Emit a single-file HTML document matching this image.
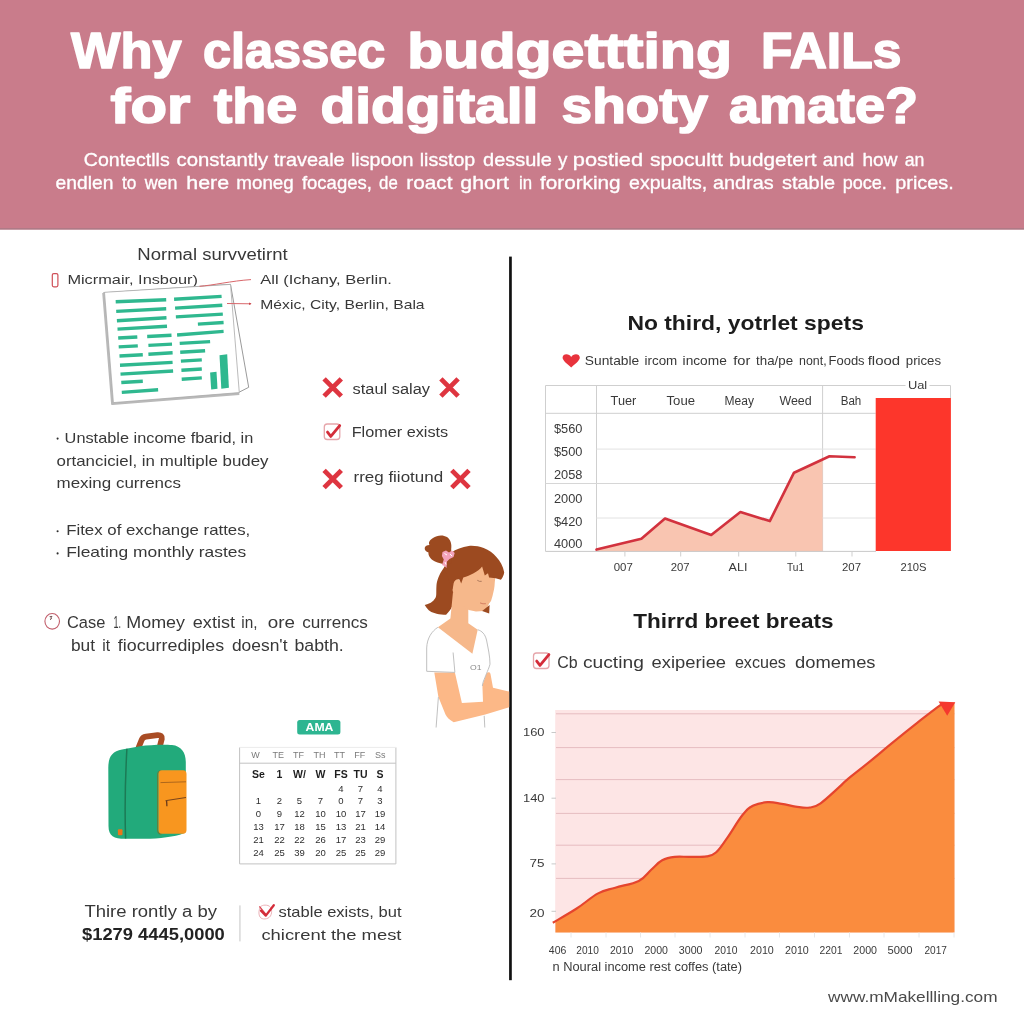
<!DOCTYPE html>
<html lang="en">
<head>
<meta charset="utf-8">
<title>Why classic budgeting fails</title>
<style>
html,body{margin:0;padding:0;background:#fff;}
body{width:1024px;height:1024px;overflow:hidden;font-family:"Liberation Sans",sans-serif;}
svg{display:block;}
svg text{font-family:"Liberation Sans",sans-serif;}
</style>
</head>
<body>
<svg width="1024" height="1024" viewBox="0 0 1024 1024">
<rect x="0" y="0" width="1024" height="1024" fill="#ffffff"/>

<g id="header">
<rect x="0" y="0" width="1024" height="229.5" fill="#c97c8b"/>
<rect x="0" y="228.2" width="1024" height="1.3" fill="#a87a85"/>
<text y="67.7" font-size="49.5" font-weight="bold" fill="#ffffff" stroke="#ffffff" stroke-width="1.6" stroke-linejoin="round"><tspan x="71.0" textLength="110.5" lengthAdjust="spacingAndGlyphs">Why</tspan> <tspan x="203.0" textLength="182.3" lengthAdjust="spacingAndGlyphs">classec</tspan> <tspan x="407.3" textLength="324.7" lengthAdjust="spacingAndGlyphs">budgettting</tspan> <tspan x="761.0" textLength="140.3" lengthAdjust="spacingAndGlyphs">FAILs</tspan></text>
<text y="123.3" font-size="49.5" font-weight="bold" fill="#ffffff" stroke="#ffffff" stroke-width="1.6" stroke-linejoin="round"><tspan x="110.5" textLength="79.8" lengthAdjust="spacingAndGlyphs">for</tspan> <tspan x="213.7" textLength="83.5" lengthAdjust="spacingAndGlyphs">the</tspan> <tspan x="320.6" textLength="217.6" lengthAdjust="spacingAndGlyphs">didgitall</tspan> <tspan x="561.6" textLength="146.5" lengthAdjust="spacingAndGlyphs">shoty</tspan> <tspan x="729.0" textLength="189.0" lengthAdjust="spacingAndGlyphs">amate?</tspan></text>
<text y="166.0" font-size="19" fill="#ffffff" stroke="#ffffff" stroke-width="0.35"><tspan x="83.8" textLength="85.9" lengthAdjust="spacingAndGlyphs">Contectlls</tspan> <tspan x="176.6" textLength="91.5" lengthAdjust="spacingAndGlyphs">constantly</tspan> <tspan x="273.8" textLength="70.9" lengthAdjust="spacingAndGlyphs">traveale</tspan> <tspan x="350.9" textLength="62.5" lengthAdjust="spacingAndGlyphs">lispoon</tspan> <tspan x="419.7" textLength="55.6" lengthAdjust="spacingAndGlyphs">lisstop</tspan> <tspan x="483.1" textLength="68.8" lengthAdjust="spacingAndGlyphs">dessule</tspan> <tspan x="558.1" textLength="9.4" lengthAdjust="spacingAndGlyphs">y</tspan> <tspan x="572.8" textLength="70.3" lengthAdjust="spacingAndGlyphs">postied</tspan> <tspan x="650.0" textLength="72.8" lengthAdjust="spacingAndGlyphs">spocultt</tspan> <tspan x="728.9" textLength="87.5" lengthAdjust="spacingAndGlyphs">budgetert</tspan> <tspan x="822.8" textLength="31.6" lengthAdjust="spacingAndGlyphs">and</tspan> <tspan x="862.5" textLength="35.0" lengthAdjust="spacingAndGlyphs">how</tspan> <tspan x="904.7" textLength="19.7" lengthAdjust="spacingAndGlyphs">an</tspan></text>
<text y="189.4" font-size="19" fill="#ffffff" stroke="#ffffff" stroke-width="0.35"><tspan x="55.6" textLength="57.8" lengthAdjust="spacingAndGlyphs">endlen</tspan> <tspan x="121.9" textLength="14.4" lengthAdjust="spacingAndGlyphs">to</tspan> <tspan x="144.7" textLength="32.8" lengthAdjust="spacingAndGlyphs">wen</tspan> <tspan x="186.3" textLength="42.8" lengthAdjust="spacingAndGlyphs">here</tspan> <tspan x="236.3" textLength="57.5" lengthAdjust="spacingAndGlyphs">moneg</tspan> <tspan x="301.9" textLength="70.0" lengthAdjust="spacingAndGlyphs">focages,</tspan> <tspan x="379.1" textLength="18.7" lengthAdjust="spacingAndGlyphs">de</tspan> <tspan x="406.3" textLength="46.2" lengthAdjust="spacingAndGlyphs">roact</tspan> <tspan x="460.3" textLength="48.5" lengthAdjust="spacingAndGlyphs">ghort</tspan> <tspan x="519.1" textLength="13.1" lengthAdjust="spacingAndGlyphs">in</tspan> <tspan x="540.0" textLength="80.6" lengthAdjust="spacingAndGlyphs">fororking</tspan> <tspan x="629.1" textLength="78.1" lengthAdjust="spacingAndGlyphs">expualts,</tspan> <tspan x="713.0" textLength="60.6" lengthAdjust="spacingAndGlyphs">andras</tspan> <tspan x="782.0" textLength="53.2" lengthAdjust="spacingAndGlyphs">stable</tspan> <tspan x="842.7" textLength="44.2" lengthAdjust="spacingAndGlyphs">poce.</tspan> <tspan x="895.3" textLength="58.5" lengthAdjust="spacingAndGlyphs">prices.</tspan></text>
</g>
<rect x="509.1" y="256.6" width="2.7" height="723.6" fill="#111111"/>
<g id="left-top">
<text x="137.3" y="260.4" font-size="15.8" fill="#383838" textLength="150.3" lengthAdjust="spacingAndGlyphs">Normal survvetirnt</text>
<rect x="52.3" y="273.6" width="5.6" height="13.2" rx="1.5" fill="none" stroke="#cf4f57" stroke-width="1.2"/>
<text x="67.4" y="284.1" font-size="13.3" fill="#383838" textLength="130.6" lengthAdjust="spacingAndGlyphs">Micrmair, Insbour)</text>
<text x="260.3" y="284.4" font-size="13.3" fill="#383838" textLength="131.6" lengthAdjust="spacingAndGlyphs">All (Ichany, Berlin.</text>
<text x="260.3" y="309.0" font-size="13.3" fill="#383838" textLength="164.3" lengthAdjust="spacingAndGlyphs">Méxic, City, Berlin, Bala</text>
</g>
<g id="doc">
<path d="M230.5 284.4 L248.7 387.3 L239.5 392 L112.4 403.8 L103.5 292.8 Z" fill="#ffffff" stroke="#8f8f8f" stroke-width="0.9"/>
<path d="M103.5 292.8 L112.4 403.8 L239.3 393.6" fill="none" stroke="#b9b9b9" stroke-width="2.6" stroke-linejoin="round"/>
<path d="M104.5 292.3 L230.5 284.4 L239.3 392.6 L113.4 402.6 Z" fill="#ffffff" stroke="#a9a9a9" stroke-width="0.8"/>
<line x1="115.7" y1="301.7" x2="166.2" y2="299.7" stroke="#2fb88f" stroke-width="3.4"/>
<line x1="116.2" y1="311.4" x2="166.2" y2="308.8" stroke="#2fb88f" stroke-width="3.4"/>
<line x1="116.9" y1="320.8" x2="166.5" y2="317.7" stroke="#2fb88f" stroke-width="3.4"/>
<line x1="117.5" y1="329.1" x2="167.0" y2="326.3" stroke="#2fb88f" stroke-width="3.4"/>
<line x1="118.2" y1="338.0" x2="137.3" y2="337.0" stroke="#2fb88f" stroke-width="3.4"/>
<line x1="147.2" y1="336.5" x2="171.5" y2="335.2" stroke="#2fb88f" stroke-width="3.4"/>
<line x1="118.7" y1="346.9" x2="137.8" y2="345.9" stroke="#2fb88f" stroke-width="3.4"/>
<line x1="148.4" y1="345.4" x2="172.0" y2="344.1" stroke="#2fb88f" stroke-width="3.4"/>
<line x1="119.5" y1="356.0" x2="142.8" y2="354.8" stroke="#2fb88f" stroke-width="3.4"/>
<line x1="148.4" y1="354.3" x2="172.6" y2="352.7" stroke="#2fb88f" stroke-width="3.4"/>
<line x1="120.0" y1="365.2" x2="172.6" y2="362.4" stroke="#2fb88f" stroke-width="3.4"/>
<line x1="120.5" y1="374.1" x2="173.1" y2="371.0" stroke="#2fb88f" stroke-width="3.4"/>
<line x1="121.3" y1="382.5" x2="142.8" y2="381.2" stroke="#2fb88f" stroke-width="3.4"/>
<line x1="121.8" y1="392.4" x2="158.1" y2="389.8" stroke="#2fb88f" stroke-width="3.4"/>
<line x1="174.1" y1="299.2" x2="221.6" y2="296.4" stroke="#2fb88f" stroke-width="3.4"/>
<line x1="175.1" y1="308.1" x2="222.3" y2="305.3" stroke="#2fb88f" stroke-width="3.4"/>
<line x1="175.9" y1="316.9" x2="222.8" y2="314.1" stroke="#2fb88f" stroke-width="3.4"/>
<line x1="197.9" y1="324.1" x2="223.6" y2="322.5" stroke="#2fb88f" stroke-width="3.4"/>
<line x1="177.1" y1="335.0" x2="223.6" y2="331.4" stroke="#2fb88f" stroke-width="3.4"/>
<line x1="179.7" y1="343.4" x2="210.1" y2="341.6" stroke="#2fb88f" stroke-width="3.4"/>
<line x1="180.2" y1="352.2" x2="205.1" y2="350.7" stroke="#2fb88f" stroke-width="3.4"/>
<line x1="180.9" y1="361.1" x2="201.8" y2="359.9" stroke="#2fb88f" stroke-width="3.4"/>
<line x1="181.4" y1="370.3" x2="201.8" y2="369.0" stroke="#2fb88f" stroke-width="3.4"/>
<line x1="181.7" y1="379.2" x2="201.8" y2="377.9" stroke="#2fb88f" stroke-width="3.4"/>
<path d="M210.1 372.6 L216.5 371.8 L217.5 388.8 L211.2 389.6 Z" fill="#2fb88f"/>
<path d="M219.5 355.3 L227.2 354.3 L228.9 387.8 L221.3 388.8 Z" fill="#2fb88f"/>
</g>
<g id="connectors">
<path d="M199.5 286.3 C212 285.5 232 280.8 251 279.6" fill="none" stroke="#d9676b" stroke-width="1"/>
<path d="M227 303.5 L251 303.8" fill="none" stroke="#d9676b" stroke-width="1"/>
<path d="M249 302.6 L251.6 303.8 L249 305 Z" fill="#c9474d"/>
</g>
<g id="marks">
<path d="M324.1 378.9 L341.3 396.1 M341.3 378.9 L324.1 396.1" stroke="#de3540" stroke-width="4.8" stroke-linecap="butt" fill="none"/>
<path d="M440.9 378.9 L458.1 396.1 M458.1 378.9 L440.9 396.1" stroke="#de3540" stroke-width="4.8" stroke-linecap="butt" fill="none"/>
<text x="352.5" y="393.9" font-size="14" fill="#383838" textLength="77.5" lengthAdjust="spacingAndGlyphs">staul salay</text>
<rect x="324.3" y="424.0" width="15.5" height="15.5" rx="3" fill="#fff" stroke="#e6a5aa" stroke-width="1.3"/>
<path d="M327.5 432.1 L330.8 436.4 L339.7 425.6" fill="none" stroke="#d42d3a" stroke-width="2.8" stroke-linecap="round" stroke-linejoin="round"/>
<text x="351.7" y="436.6" font-size="14" fill="#383838" textLength="96.5" lengthAdjust="spacingAndGlyphs">Flomer exists</text>
<path d="M324.1 470.4 L341.3 487.6 M341.3 470.4 L324.1 487.6" stroke="#de3540" stroke-width="4.8" stroke-linecap="butt" fill="none"/>
<path d="M451.8 470.4 L469.0 487.6 M469.0 470.4 L451.8 487.6" stroke="#de3540" stroke-width="4.8" stroke-linecap="butt" fill="none"/>
<text x="353.5" y="482.2" font-size="14" fill="#383838" textLength="89.6" lengthAdjust="spacingAndGlyphs">rreg fiiotund</text>
</g>
<g id="bullets">
<circle cx="57.6" cy="438.6" r="1.05" fill="#2e2e2e"/>
<circle cx="57.6" cy="531.2" r="1.05" fill="#2e2e2e"/>
<circle cx="57.6" cy="553.4" r="1.05" fill="#2e2e2e"/>
<text x="64.6" y="443.4" font-size="14.4" fill="#383838" textLength="188.7" lengthAdjust="spacingAndGlyphs">Unstable income fbarid, in</text>
<text x="56.5" y="466.2" font-size="14.4" fill="#383838" textLength="212.0" lengthAdjust="spacingAndGlyphs">ortanciciel, in multiple budey</text>
<text x="56.5" y="488.0" font-size="14.4" fill="#383838" textLength="124.5" lengthAdjust="spacingAndGlyphs">mexing currencs</text>
<text x="66.2" y="534.8" font-size="14.4" fill="#383838" textLength="184.1" lengthAdjust="spacingAndGlyphs">Fitex of exchange rattes,</text>
<text x="66.2" y="557.1" font-size="14.4" fill="#383838" textLength="180.0" lengthAdjust="spacingAndGlyphs">Fleating monthly rastes</text>
</g>
<g id="case">
<ellipse cx="52.2" cy="621.3" rx="7.3" ry="7.8" fill="none" stroke="#c25f6c" stroke-width="1.1"/>
<path d="M49.6 616.6 L52 616.4 L50.6 618.2 L51.6 618.2 L50.2 620" fill="none" stroke="#5a3a3a" stroke-width="0.8"/>
<text y="627.6" font-size="16.8" fill="#383838"><tspan x="66.9" textLength="38.4" lengthAdjust="spacingAndGlyphs">Case</tspan> <tspan x="113.4" textLength="7.5" lengthAdjust="spacingAndGlyphs">1.</tspan> <tspan x="126.3" textLength="58.7" lengthAdjust="spacingAndGlyphs">Momey</tspan> <tspan x="192.8" textLength="42.2" lengthAdjust="spacingAndGlyphs">extist</tspan> <tspan x="241.3" textLength="16.2" lengthAdjust="spacingAndGlyphs">in,</tspan> <tspan x="267.8" textLength="27.2" lengthAdjust="spacingAndGlyphs">ore</tspan> <tspan x="302.2" textLength="65.6" lengthAdjust="spacingAndGlyphs">currencs</tspan></text>
<text y="650.6" font-size="16.8" fill="#383838"><tspan x="70.9" textLength="24.1" lengthAdjust="spacingAndGlyphs">but</tspan> <tspan x="102.2" textLength="7.8" lengthAdjust="spacingAndGlyphs">it</tspan> <tspan x="117.8" textLength="106.3" lengthAdjust="spacingAndGlyphs">fiocurrediples</tspan> <tspan x="231.9" textLength="55.6" lengthAdjust="spacingAndGlyphs">doesn't</tspan> <tspan x="294.4" textLength="49.4" lengthAdjust="spacingAndGlyphs">babth.</tspan></text>
</g>
<g id="girl">
<path d="M446 565 C440 572 437 580 436.5 585.1 C436 592 436.8 596 435.4 598 C433 602 429 604 424.7 605 C427 609 430 612 434.3 613.1 C438 614.5 442 615 446.1 614.7 C449 612 451 609 452.1 606.6 C453.5 602 453.7 598 453.7 593.7 L456 580 L460 568 L455 556 Z" fill="#9c4a20"/>
<path d="M453 592 L450.4 618.4 L437.9 627.3 L472.4 653.7 L477.7 629.7 L468.3 623.2 L468.3 606 Z" fill="#f6b88b"/>
<path d="M470 560 L496 572 L494.8 582 L494.5 586.2 L494 589.4 L492.5 596 L491 601 L489.1 603.4 L487 608 L483.7 610.9 L476 611.4 L468.7 609.9 L460 604 L453.7 593.7 C451.5 589 451.8 582 455 579.5 C457 578.5 459 579 460 580.5 Z" fill="#f6b88b"/>
<path d="M451 553 C456 549 462 547 468.7 546 C474 545.5 479 546.5 483.7 548 C489 550 493 553 496.6 557.2 C500 561 503 566 504.2 572.3 C504 575 502.5 578 500.9 579.8 L495.6 578.2 L489.1 577.6 L488 573.3 L484.8 575.5 L482.1 566.4 C478 572 470 575 463.3 577.6 L461.2 583.5 L459.6 579.8 C457 578.6 455 580 453.7 583 L452.5 590 L444 568 Z" fill="#9c4a20"/>
<path d="M489.6 605 L489.2 613.6 L482.1 611 Z" fill="#9c4a20"/>
<path d="M451.5 563 C447 565 440 564 435 561.5 C430 559 428 555 428.5 552.5 C426 552 424.5 550 424.7 548 C425 546 427 545 429.5 545 C428 542.5 430 539.5 433 538 C437 535 443 534.5 447 537 C450.5 539.5 452 544 451.2 549 Z" fill="#9c4a20"/>
<path d="M442.5 552 L446 550.5 L449 552.5 L452 550.5 L454.7 553 L453.5 557 L449.5 559 L447 561.5 L446.5 568 L444.5 566 L442 565 L443.8 559.5 L441.9 556 Z" fill="#f3a3bb"/>
<path d="M444.5 553.5 L447 555 M450 554 L452 556 M445 562 L446 564.5" stroke="#ffffff" stroke-width="1" fill="none"/>
<path d="M477.3 580.3 q2.2 1.6 4.4 1" fill="none" stroke="#9a6a50" stroke-width="0.8"/>
<path d="M480 602.9 q3 1.4 5.9 0.8" fill="none" stroke="#d0785e" stroke-width="0.9"/>
<path d="M434.3 672.4 L454.9 672.4 L461.9 702.9 L483 701.8 L482.4 685.3 L486.5 673.6 C488 671.6 490 671.8 490.5 674 L493 687.7 L507.6 691.2 L509.2 691.5 L509.2 707.3 L485.3 714.6 L453.7 722.3 C449 720 447 717 445.5 714.6 L438.4 697.1 Z" fill="#fcb887"/>
<path d="M437.9 627.3 C432 631 427 638 426.7 648 L426.7 671.3 L454.9 672.4 L453.1 652.5" fill="none" stroke="#b9b9b9" stroke-width="0.9"/>
<path d="M477.7 629.7 C482 631 485 634 486.5 640 C488 648 490 656 490 664.2 C489 668 487.5 671 486.5 673.6 C484 680 482.4 683 482.4 686" fill="none" stroke="#b9b9b9" stroke-width="0.9"/>
<path d="M438.4 697.1 L436.1 727.5 M484.2 715.8 L484.8 727.5" fill="none" stroke="#b9b9b9" stroke-width="0.9"/>
<text x="470" y="670.3" font-size="7" fill="#8a8a8a" textLength="11.5" lengthAdjust="spacingAndGlyphs">O1</text>
</g>
<g id="backpack">
<path d="M138.6 747.5 L141.8 739.6 Q142.8 737 146 736.6 L157.5 735.1 Q162.4 734.8 161.8 738.8 L160.2 745" fill="none" stroke="#a94c24" stroke-width="5.8" stroke-linecap="round" stroke-linejoin="round"/>
<path d="M108.3 768 C108.3 757 112 751.5 122 749.6 L140 746.2 C150 744.6 165 744.3 172 745 C181 746 185.8 752 185.8 762 L185.8 832 C180 836 165 838 150 838.8 L125 838.8 C114 838.8 108.5 836 108.5 826 Z" fill="#22aa7b"/>
<path d="M126.9 748.8 C124.6 790 124.8 815 125.6 838.5" fill="none" stroke="#1c7a55" stroke-width="1.5"/>
<path d="M161.5 770.6 Q157.6 771 157.6 775 L157.6 830 Q157.6 834 161.5 834.2" fill="none" stroke="#5f7f3f" stroke-width="1.2"/>
<path d="M162 770.2 L183 770.2 Q186.5 770.2 186.5 774 L186.5 830 Q186.5 833.7 183 833.7 L162 833.7 Q158.5 833.7 158.5 830 L158.5 774 Q158.5 770.2 162 770.2 Z" fill="#f8961f"/>
<path d="M160.5 782.6 L186 781.8" stroke="#9a5a1a" stroke-width="0.8" fill="none"/>
<path d="M165.5 800.7 L186 797.5" stroke="#6a3a1a" stroke-width="0.9" fill="none"/>
<path d="M166.6 801 L166.9 806.2" stroke="#6a3a1a" stroke-width="1.3" fill="none"/>
<rect x="117.9" y="829.2" width="4.6" height="6" rx="1" fill="#e8761a"/>
</g>
<g id="calendar">
<rect x="297.2" y="720" width="43.2" height="14.6" rx="2.5" fill="#2db591"/>
<text x="305.6" y="731.0" font-size="10.2" font-weight="bold" fill="#ffffff" textLength="27.8" lengthAdjust="spacingAndGlyphs">AMA</text>
<rect x="239.6" y="747.4" width="156.3" height="116.5" fill="#ffffff"/>
<path d="M239.6 747.4 L239.6 863.9 L395.9 863.9 L395.9 747.4" fill="none" stroke="#c2c2c2" stroke-width="1"/>
<path d="M239.6 747.4 L395.9 747.4" fill="none" stroke="#ebebeb" stroke-width="1"/>
<line x1="239.6" y1="763.2" x2="395.9" y2="763.2" stroke="#c2c2c2" stroke-width="1"/>
<text x="255.5" y="757.7" font-size="9" fill="#7a7a7a" text-anchor="middle">W</text>
<text x="278.2" y="757.7" font-size="9" fill="#7a7a7a" text-anchor="middle">TE</text>
<text x="298.4" y="757.7" font-size="9" fill="#7a7a7a" text-anchor="middle">TF</text>
<text x="319.4" y="757.7" font-size="9" fill="#7a7a7a" text-anchor="middle">TH</text>
<text x="339.5" y="757.7" font-size="9" fill="#7a7a7a" text-anchor="middle">TT</text>
<text x="359.7" y="757.7" font-size="9" fill="#7a7a7a" text-anchor="middle">FF</text>
<text x="380.2" y="757.7" font-size="9" fill="#7a7a7a" text-anchor="middle">Ss</text>
<text x="258.5" y="777.8" font-size="10.5" font-weight="bold" fill="#1e1e1e" text-anchor="middle">Se</text>
<text x="279.5" y="777.8" font-size="10.5" font-weight="bold" fill="#1e1e1e" text-anchor="middle">1</text>
<text x="299.5" y="777.8" font-size="10.5" font-weight="bold" fill="#1e1e1e" text-anchor="middle">W/</text>
<text x="320.5" y="777.8" font-size="10.5" font-weight="bold" fill="#1e1e1e" text-anchor="middle">W</text>
<text x="341.0" y="777.8" font-size="10.5" font-weight="bold" fill="#1e1e1e" text-anchor="middle">FS</text>
<text x="360.5" y="777.8" font-size="10.5" font-weight="bold" fill="#1e1e1e" text-anchor="middle">TU</text>
<text x="380.0" y="777.8" font-size="10.5" font-weight="bold" fill="#1e1e1e" text-anchor="middle">S</text>
<text x="341.0" y="792.3" font-size="9.5" fill="#2e2e2e" text-anchor="middle">4</text>
<text x="360.5" y="792.3" font-size="9.5" fill="#2e2e2e" text-anchor="middle">7</text>
<text x="380.0" y="792.3" font-size="9.5" fill="#2e2e2e" text-anchor="middle">4</text>
<text x="258.5" y="803.6" font-size="9.5" fill="#2e2e2e" text-anchor="middle">1</text>
<text x="279.5" y="803.6" font-size="9.5" fill="#2e2e2e" text-anchor="middle">2</text>
<text x="299.5" y="803.6" font-size="9.5" fill="#2e2e2e" text-anchor="middle">5</text>
<text x="320.5" y="803.6" font-size="9.5" fill="#2e2e2e" text-anchor="middle">7</text>
<text x="341.0" y="803.6" font-size="9.5" fill="#2e2e2e" text-anchor="middle">0</text>
<text x="360.5" y="803.6" font-size="9.5" fill="#2e2e2e" text-anchor="middle">7</text>
<text x="380.0" y="803.6" font-size="9.5" fill="#2e2e2e" text-anchor="middle">3</text>
<text x="258.5" y="816.9" font-size="9.5" fill="#2e2e2e" text-anchor="middle">0</text>
<text x="279.5" y="816.9" font-size="9.5" fill="#2e2e2e" text-anchor="middle">9</text>
<text x="299.5" y="816.9" font-size="9.5" fill="#2e2e2e" text-anchor="middle">12</text>
<text x="320.5" y="816.9" font-size="9.5" fill="#2e2e2e" text-anchor="middle">10</text>
<text x="341.0" y="816.9" font-size="9.5" fill="#2e2e2e" text-anchor="middle">10</text>
<text x="360.5" y="816.9" font-size="9.5" fill="#2e2e2e" text-anchor="middle">17</text>
<text x="380.0" y="816.9" font-size="9.5" fill="#2e2e2e" text-anchor="middle">19</text>
<text x="258.5" y="829.5" font-size="9.5" fill="#2e2e2e" text-anchor="middle">13</text>
<text x="279.5" y="829.5" font-size="9.5" fill="#2e2e2e" text-anchor="middle">17</text>
<text x="299.5" y="829.5" font-size="9.5" fill="#2e2e2e" text-anchor="middle">18</text>
<text x="320.5" y="829.5" font-size="9.5" fill="#2e2e2e" text-anchor="middle">15</text>
<text x="341.0" y="829.5" font-size="9.5" fill="#2e2e2e" text-anchor="middle">13</text>
<text x="360.5" y="829.5" font-size="9.5" fill="#2e2e2e" text-anchor="middle">21</text>
<text x="380.0" y="829.5" font-size="9.5" fill="#2e2e2e" text-anchor="middle">14</text>
<text x="258.5" y="842.8" font-size="9.5" fill="#2e2e2e" text-anchor="middle">21</text>
<text x="279.5" y="842.8" font-size="9.5" fill="#2e2e2e" text-anchor="middle">22</text>
<text x="299.5" y="842.8" font-size="9.5" fill="#2e2e2e" text-anchor="middle">22</text>
<text x="320.5" y="842.8" font-size="9.5" fill="#2e2e2e" text-anchor="middle">26</text>
<text x="341.0" y="842.8" font-size="9.5" fill="#2e2e2e" text-anchor="middle">17</text>
<text x="360.5" y="842.8" font-size="9.5" fill="#2e2e2e" text-anchor="middle">23</text>
<text x="380.0" y="842.8" font-size="9.5" fill="#2e2e2e" text-anchor="middle">29</text>
<text x="258.5" y="855.7" font-size="9.5" fill="#2e2e2e" text-anchor="middle">24</text>
<text x="279.5" y="855.7" font-size="9.5" fill="#2e2e2e" text-anchor="middle">25</text>
<text x="299.5" y="855.7" font-size="9.5" fill="#2e2e2e" text-anchor="middle">39</text>
<text x="320.5" y="855.7" font-size="9.5" fill="#2e2e2e" text-anchor="middle">20</text>
<text x="341.0" y="855.7" font-size="9.5" fill="#2e2e2e" text-anchor="middle">25</text>
<text x="360.5" y="855.7" font-size="9.5" fill="#2e2e2e" text-anchor="middle">25</text>
<text x="380.0" y="855.7" font-size="9.5" fill="#2e2e2e" text-anchor="middle">29</text>
</g>
<g id="bottomleft">
<text x="84.4" y="917.3" font-size="15.6" fill="#383838" textLength="132.6" lengthAdjust="spacingAndGlyphs">Thire rontly a by</text>
<text x="82.0" y="939.7" font-size="15.6" font-weight="bold" fill="#222" textLength="142.8" lengthAdjust="spacingAndGlyphs">$1279 4445,0000</text>
<rect x="239.5" y="905.4" width="0.9" height="36" fill="#bdbdbd"/>
<path d="M259.5 909 C260 905.5 264 904.5 268 905.5 C272 907 272.5 912 270.5 916 C268 919.5 262 920 260 917 C258.5 914.5 258.8 911.5 259.5 909 Z" fill="none" stroke="#e9a9b0" stroke-width="0.9"/>
<path d="M259.8 906.8 L265.5 913.8" fill="none" stroke="#d9424e" stroke-width="1.3" stroke-linecap="round"/>
<path d="M261 910.6 L265.8 915.6 L273.8 905.2" fill="none" stroke="#d42d3a" stroke-width="2.3" stroke-linecap="round" stroke-linejoin="round"/>
<text x="278.5" y="917.3" font-size="15" fill="#383838" textLength="123.0" lengthAdjust="spacingAndGlyphs">stable exists, but</text>
<text x="261.4" y="939.7" font-size="15" fill="#383838" textLength="140.1" lengthAdjust="spacingAndGlyphs">chicrent the mest</text>
</g>
<g id="chart1">
<text x="627.4" y="330.1" font-size="19.8" font-weight="bold" fill="#1c1c1c" textLength="236.5" lengthAdjust="spacingAndGlyphs">No third, yotrlet spets</text>
<path d="M571.2 367.4 C565 362.5 562.6 360 562.6 357.6 C562.6 355.4 564.4 354.2 566.4 354.2 C568.4 354.2 570.2 355.2 571.2 357 C572.2 355.2 574 354.2 576 354.2 C578 354.2 579.8 355.4 579.8 357.6 C579.8 360 577.4 362.5 571.2 367.4 Z" fill="#e8333c"/>
<text y="365.2" font-size="13.2" fill="#383838"><tspan x="584.8" textLength="54.4" lengthAdjust="spacingAndGlyphs">Suntable</tspan> <tspan x="644.5" textLength="32.8" lengthAdjust="spacingAndGlyphs">ircom</tspan> <tspan x="682.6" textLength="44.2" lengthAdjust="spacingAndGlyphs">income</tspan> <tspan x="733.3" textLength="17.1" lengthAdjust="spacingAndGlyphs">for</tspan> <tspan x="756.1" textLength="37.0" lengthAdjust="spacingAndGlyphs">tha/pe</tspan> <tspan x="799.1" textLength="27.5" lengthAdjust="spacingAndGlyphs">nont,</tspan> <tspan x="828.5" textLength="36.1" lengthAdjust="spacingAndGlyphs">Foods</tspan> <tspan x="867.7" textLength="32.4" lengthAdjust="spacingAndGlyphs">flood</tspan> <tspan x="905.8" textLength="35.2" lengthAdjust="spacingAndGlyphs">prices</tspan></text>
<path d="M545.5 385.5 L950.5 385.5 M545.5 385.5 L545.5 551.4 M545.5 413.3 L875.7 413.3 M596.5 385.5 L596.5 551.4 M822.6 385.5 L822.6 551.4 M950.5 385.5 L950.5 398" fill="none" stroke="#cfcfcf" stroke-width="1"/>
<path d="M596.5 449.1 L875.7 449.1 M596.5 518 L875.7 518" fill="none" stroke="#e2e2e2" stroke-width="1"/>
<path d="M545.5 483.5 L875.7 483.5" fill="none" stroke="#d6d6d6" stroke-width="1"/>
<path d="M596.5 549.6 L641.4 538.7 L665.0 518.5 L711.2 535.0 L740.4 512.0 L769.8 521.1 L794.0 472.7 L822.6 459.4 L822.6 551.4 L596.5 551.4 Z" fill="#f9c5b1"/>
<path d="M545.5 551.4 L876 551.4" stroke="#c9c9c9" stroke-width="1"/>
<path d="M596.5 549.6 L641.4 538.7 L665.0 518.5 L711.2 535.0 L740.4 512.0 L769.8 521.1 L794.0 472.7 L829.5 456.2 L854.6 457.3" fill="none" stroke="#d2323e" stroke-width="2.6" stroke-linejoin="round" stroke-linecap="round"/>
<rect x="875.7" y="398" width="75.2" height="153" fill="#fd362b"/>
<text x="610.6" y="405.1" font-size="12" fill="#3a3a3a" textLength="25.7" lengthAdjust="spacingAndGlyphs">Tuer</text>
<text x="666.5" y="405.1" font-size="12" fill="#3a3a3a" textLength="28.5" lengthAdjust="spacingAndGlyphs">Toue</text>
<text x="724.5" y="405.1" font-size="12" fill="#3a3a3a" textLength="29.4" lengthAdjust="spacingAndGlyphs">Meay</text>
<text x="779.4" y="405.1" font-size="12" fill="#3a3a3a" textLength="32.3" lengthAdjust="spacingAndGlyphs">Weed</text>
<text x="840.7" y="405.1" font-size="12" fill="#3a3a3a" textLength="20.6" lengthAdjust="spacingAndGlyphs">Bah</text>
<rect x="905.5" y="383" width="24" height="5" fill="#ffffff"/>
<text x="907.9" y="389.2" font-size="11.5" fill="#3a3a3a" textLength="19.3" lengthAdjust="spacingAndGlyphs">Ual</text>
<text x="554.0" y="432.6" font-size="12" fill="#3a3a3a" textLength="28.5" lengthAdjust="spacingAndGlyphs">$560</text>
<text x="554.0" y="455.9" font-size="12" fill="#3a3a3a" textLength="28.5" lengthAdjust="spacingAndGlyphs">$500</text>
<text x="554.0" y="479.0" font-size="12" fill="#3a3a3a" textLength="28.5" lengthAdjust="spacingAndGlyphs">2058</text>
<text x="554.0" y="502.9" font-size="12" fill="#3a3a3a" textLength="28.5" lengthAdjust="spacingAndGlyphs">2000</text>
<text x="554.0" y="526.0" font-size="12" fill="#3a3a3a" textLength="28.5" lengthAdjust="spacingAndGlyphs">$420</text>
<text x="554.0" y="548.2" font-size="12" fill="#3a3a3a" textLength="28.5" lengthAdjust="spacingAndGlyphs">4000</text>
<text x="613.7" y="570.7" font-size="11.2" fill="#3a3a3a" textLength="19.1" lengthAdjust="spacingAndGlyphs">007</text>
<text x="670.7" y="570.7" font-size="11.2" fill="#3a3a3a" textLength="18.9" lengthAdjust="spacingAndGlyphs">207</text>
<text x="728.6" y="570.7" font-size="11.2" fill="#3a3a3a" textLength="18.8" lengthAdjust="spacingAndGlyphs">ALI</text>
<text x="787.0" y="570.7" font-size="11.2" fill="#3a3a3a" textLength="17.1" lengthAdjust="spacingAndGlyphs">Tu1</text>
<text x="842.0" y="570.7" font-size="11.2" fill="#3a3a3a" textLength="19.0" lengthAdjust="spacingAndGlyphs">207</text>
<text x="900.4" y="570.7" font-size="11.2" fill="#3a3a3a" textLength="26.2" lengthAdjust="spacingAndGlyphs">210S</text>
<path d="M624.9 551.4 L624.9 556.5 M680.7 551.4 L680.7 556.5 M738.7 551.4 L738.7 556.5 M795.8 551.4 L795.8 556.5 M852 551.4 L852 556.5" stroke="#cfcfcf" stroke-width="1"/>
</g>
<g id="chart2">
<text x="633.2" y="628.4" font-size="20.5" font-weight="bold" fill="#1c1c1c" textLength="200.3" lengthAdjust="spacingAndGlyphs">Thirrd breet breats</text>
<rect x="533.5" y="653.0" width="15.5" height="15.5" rx="3" fill="#fff" stroke="#e6a5aa" stroke-width="1.3"/>
<path d="M536.7 661.1 L540.0 665.4 L548.9 654.6" fill="none" stroke="#d42d3a" stroke-width="2.8" stroke-linecap="round" stroke-linejoin="round"/>
<text y="667.9" font-size="16.8" fill="#383838"><tspan x="557.3" textLength="20.4" lengthAdjust="spacingAndGlyphs">Cb</tspan> <tspan x="583.0" textLength="60.8" lengthAdjust="spacingAndGlyphs">cucting</tspan> <tspan x="651.6" textLength="74.5" lengthAdjust="spacingAndGlyphs">exiperiee</tspan> <tspan x="734.9" textLength="51.0" lengthAdjust="spacingAndGlyphs">excues</tspan> <tspan x="795.0" textLength="80.5" lengthAdjust="spacingAndGlyphs">domemes</tspan></text>
<rect x="555.2" y="710" width="399.3" height="222.5" fill="#fde5e5"/>
<path d="M556 713.8 L954.5 713.8 M556 747.6 L954.5 747.6 M556 779.6 L954.5 779.6 M556 813.4 L954.5 813.4 M556 845.2 L954.5 845.2 M556 878.4 L954.5 878.4" stroke="#e6bcc0" stroke-width="1"/>
<path d="M552.8 922.8 C557.3 920.1 567.7 914.3 576.3 908.8 C584.9 903.2 590.7 897.4 598.1 893.4 C605.5 889.4 607.6 890.1 615.3 887.7 C623.0 885.3 631.9 884.3 638.8 880.9 C645.6 877.5 646.8 873.6 651.2 869.7 C655.7 865.8 657.7 862.7 662.2 860.3 C666.7 857.9 669.4 857.5 674.7 856.9 C680.0 856.3 683.9 857.0 690.0 856.9 C696.1 856.8 701.7 857.2 706.6 856.4 C711.5 855.6 712.0 855.9 715.9 852.5 C719.8 849.1 721.8 845.5 726.9 838.4 C732.0 831.3 737.5 821.2 742.5 815.0 C747.5 808.8 748.6 808.0 753.4 805.6 C758.1 803.2 762.1 802.6 767.5 802.2 C772.9 801.8 776.0 802.9 781.6 803.8 C787.2 804.6 791.9 806.2 797.2 806.9 C802.5 807.6 805.3 808.2 809.7 807.5 C814.1 806.8 815.0 807.2 820.6 803.3 C826.2 799.4 834.4 791.4 839.4 786.9 C844.4 782.4 841.0 784.7 846.9 779.8 C852.8 774.9 861.4 768.4 870.3 761.1 C879.2 753.8 884.8 748.9 893.8 741.6 C902.7 734.3 908.0 730.0 917.2 722.8 C926.4 715.6 937.3 707.4 942.0 703.8 L954.5 702.5 L954.5 932.5 L555.4 932.5 L555.4 921.3 Z" fill="#fa8c3e"/>
<path d="M552.8 922.8 C557.3 920.1 567.7 914.3 576.3 908.8 C584.9 903.2 590.7 897.4 598.1 893.4 C605.5 889.4 607.6 890.1 615.3 887.7 C623.0 885.3 631.9 884.3 638.8 880.9 C645.6 877.5 646.8 873.6 651.2 869.7 C655.7 865.8 657.7 862.7 662.2 860.3 C666.7 857.9 669.4 857.5 674.7 856.9 C680.0 856.3 683.9 857.0 690.0 856.9 C696.1 856.8 701.7 857.2 706.6 856.4 C711.5 855.6 712.0 855.9 715.9 852.5 C719.8 849.1 721.8 845.5 726.9 838.4 C732.0 831.3 737.5 821.2 742.5 815.0 C747.5 808.8 748.6 808.0 753.4 805.6 C758.1 803.2 762.1 802.6 767.5 802.2 C772.9 801.8 776.0 802.9 781.6 803.8 C787.2 804.6 791.9 806.2 797.2 806.9 C802.5 807.6 805.3 808.2 809.7 807.5 C814.1 806.8 815.0 807.2 820.6 803.3 C826.2 799.4 834.4 791.4 839.4 786.9 C844.4 782.4 841.0 784.7 846.9 779.8 C852.8 774.9 861.4 768.4 870.3 761.1 C879.2 753.8 884.8 748.9 893.8 741.6 C902.7 734.3 908.0 730.0 917.2 722.8 C926.4 715.6 937.3 707.4 942.0 703.8" fill="none" stroke="#e5452e" stroke-width="2.2" stroke-linejoin="round"/>
<path d="M955.3 702.2 L938.6 701.6 L947.2 715.8 Z" fill="#f5392e"/>
<text x="523.0" y="735.5" font-size="11.8" fill="#3a3a3a" textLength="21.5" lengthAdjust="spacingAndGlyphs">160</text>
<line x1="551.5" y1="732.5" x2="556" y2="732.5" stroke="#c9c9c9" stroke-width="1"/>
<text x="523.0" y="801.6" font-size="11.8" fill="#3a3a3a" textLength="21.5" lengthAdjust="spacingAndGlyphs">140</text>
<line x1="551.5" y1="798.2" x2="556" y2="798.2" stroke="#c9c9c9" stroke-width="1"/>
<text x="529.5" y="867.4" font-size="11.8" fill="#3a3a3a" textLength="15.0" lengthAdjust="spacingAndGlyphs">75</text>
<line x1="551.5" y1="863.9" x2="556" y2="863.9" stroke="#c9c9c9" stroke-width="1"/>
<text x="529.5" y="917.1" font-size="11.8" fill="#3a3a3a" textLength="15.0" lengthAdjust="spacingAndGlyphs">20</text>
<line x1="551.5" y1="911.3" x2="556" y2="911.3" stroke="#c9c9c9" stroke-width="1"/>
<path d="M571 932.5 L571 937.5 M606 932.5 L606 937.5 M640.5 932.5 L640.5 937.5 M675 932.5 L675 937.5 M710 932.5 L710 937.5 M745 932.5 L745 937.5 M779.5 932.5 L779.5 937.5 M814.5 932.5 L814.5 937.5 M849.5 932.5 L849.5 937.5 M884 932.5 L884 937.5 M919 932.5 L919 937.5 M954 932.5 L954 937.5" stroke="#e8e8e8" stroke-width="1"/>
<text x="548.8" y="953.8" font-size="11.5" fill="#3a3a3a" textLength="17.5" lengthAdjust="spacingAndGlyphs">406</text>
<text x="576.3" y="953.8" font-size="11.5" fill="#3a3a3a" textLength="22.5" lengthAdjust="spacingAndGlyphs">2010</text>
<text x="610.0" y="953.8" font-size="11.5" fill="#3a3a3a" textLength="23.3" lengthAdjust="spacingAndGlyphs">2010</text>
<text x="644.5" y="953.8" font-size="11.5" fill="#3a3a3a" textLength="23.5" lengthAdjust="spacingAndGlyphs">2000</text>
<text x="678.8" y="953.8" font-size="11.5" fill="#3a3a3a" textLength="23.7" lengthAdjust="spacingAndGlyphs">3000</text>
<text x="714.5" y="953.8" font-size="11.5" fill="#3a3a3a" textLength="23.0" lengthAdjust="spacingAndGlyphs">2010</text>
<text x="750.0" y="953.8" font-size="11.5" fill="#3a3a3a" textLength="23.8" lengthAdjust="spacingAndGlyphs">2010</text>
<text x="785.0" y="953.8" font-size="11.5" fill="#3a3a3a" textLength="23.8" lengthAdjust="spacingAndGlyphs">2010</text>
<text x="819.5" y="953.8" font-size="11.5" fill="#3a3a3a" textLength="23.0" lengthAdjust="spacingAndGlyphs">2201</text>
<text x="853.3" y="953.8" font-size="11.5" fill="#3a3a3a" textLength="23.7" lengthAdjust="spacingAndGlyphs">2000</text>
<text x="887.5" y="953.8" font-size="11.5" fill="#3a3a3a" textLength="25.0" lengthAdjust="spacingAndGlyphs">5000</text>
<text x="924.5" y="953.8" font-size="11.5" fill="#3a3a3a" textLength="22.5" lengthAdjust="spacingAndGlyphs">2017</text>
<text x="552.5" y="970.7" font-size="12" fill="#3a3a3a" textLength="189.5" lengthAdjust="spacingAndGlyphs">n Noural income rest coffes (tate)</text>
<text x="828.0" y="1002.3" font-size="14.5" fill="#4a4a4a" textLength="169.5" lengthAdjust="spacingAndGlyphs">www.mMakellling.com</text>
</g>
</svg>
</body>
</html>
